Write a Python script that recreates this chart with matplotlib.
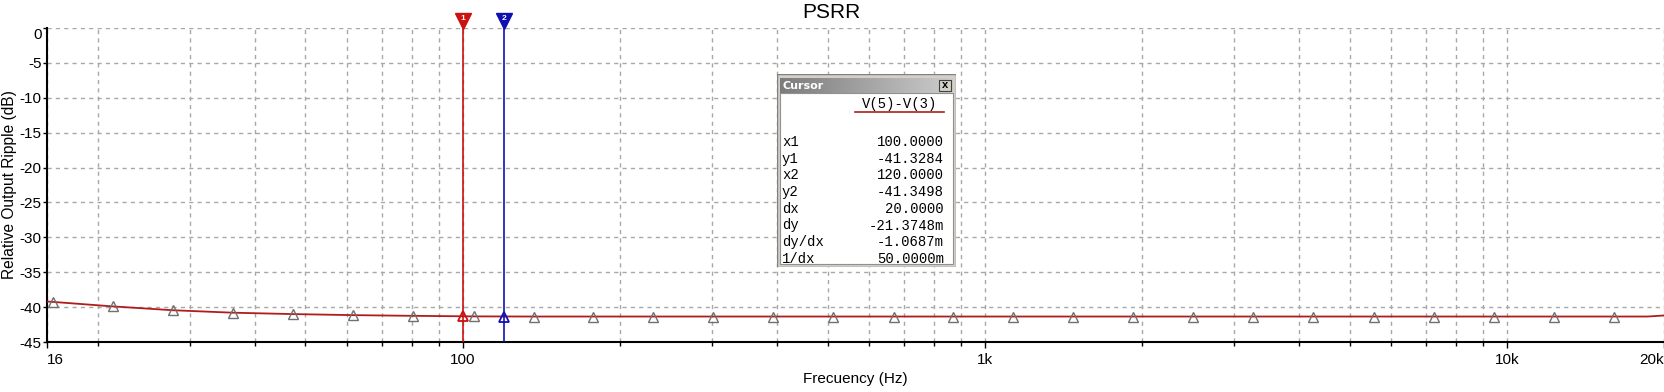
import numpy as np
import matplotlib
matplotlib.use('Agg')
from matplotlib import pyplot as plt
from matplotlib.ticker import FixedLocator, LogLocator, NullFormatter
from matplotlib.patches import Rectangle

plt.rcParams['font.family'] = ['Liberation Sans', 'DejaVu Sans']

# trace V(5)-V(3) (Hz, dB)
freq = [16, 16.4, 21.4, 27.9, 36.3, 47.4, 61.7, 80.4, 105, 137, 178, 232, 302,
        394, 513, 669, 871, 1135, 1479, 1927, 2511, 3272, 4263, 5555, 7238,
        9431, 12290, 16010, 18600, 20000]
db = [-39.2, -39.25, -39.9, -40.45, -40.8, -41.0, -41.15, -41.25, -41.33,
      -41.35, -41.35, -41.35, -41.35, -41.35, -41.35, -41.35, -41.35, -41.35,
      -41.35, -41.35, -41.35, -41.35, -41.35, -41.35, -41.35, -41.35, -41.35,
      -41.35, -41.35, -41.2]

xticks = [16, 100, 1000, 10000, 20000]
xticklabels = ['16', '100', '1k', '10k', '20k']
yticks = [0, -5, -10, -15, -20, -25, -30, -35, -40, -45]

cursor_x = [100, 120]
cursor_y = [-41.3284, -41.3498]
cursor_col = ['#cc1111', '#1010b0']

rows = ['x1', 'y1', 'x2', 'y2', 'dx', 'dy', 'dy/dx', '1/dx']
vals = ['100.0000', '-41.3284', '120.0000', '-41.3498', '20.0000',
        '-21.3748m', '-1.0687m', '50.0000m']

fig = plt.figure(figsize=(16.65, 3.92), dpi=100)
ax = fig.add_axes([47 / 1665, 1 - 342 / 392, 1617 / 1665, 314 / 392])

ax.plot(freq, db, color='#b01c1c', lw=1.3, zorder=3)
ax.plot(freq[1:-2], db[1:-2], ls='none', marker='^', ms=6.5, mfc='none',
        mec='#707070', mew=1.0, zorder=4)

tr = ax.get_xaxis_transform()
for cx, cy, c, n in zip(cursor_x, cursor_y, cursor_col, ['1', '2']):
    ax.axvline(cx, color=c, lw=1.2, zorder=5)
    ax.plot([cx], [cy], ls='none', marker='^', ms=6.5, mfc='none', mec=c,
            mew=1.3, zorder=6)
    ax.plot([cx], [1.022], marker='v', ms=11, color=c, transform=tr,
            clip_on=False, zorder=7)
    ax.text(cx, 1.03, n, transform=tr, color='white', fontsize=6,
            fontweight='bold', ha='center', va='center', clip_on=False,
            zorder=8)

ax.set_xscale('log')
ax.set_xlim(16, 20000)
ax.set_ylim(-45, 0)
ax.xaxis.set_major_locator(FixedLocator(xticks))
ax.set_xticklabels(xticklabels)
ax.xaxis.set_minor_locator(LogLocator(base=10, subs=np.arange(2, 10)))
ax.xaxis.set_minor_formatter(NullFormatter())
ax.set_yticks(yticks)
ax.set_yticklabels([str(v) for v in yticks])
ax.tick_params(axis='x', which='major', labelsize=11, length=4, width=1,
               pad=4)
ax.tick_params(axis='x', which='minor', length=3, width=1)
ax.tick_params(axis='y', labelsize=11, length=3, width=1, pad=1)
xl = ax.get_xticklabels()
xl[0].set_ha('left')
xl[-1].set_ha('right')
ax.get_yticklabels()[0].set_va('top')
ax.grid(True, which='both', color='#a8a8a8', ls=(0, (3, 3)), lw=1)
for s in ['top', 'right']:
    ax.spines[s].set_visible(False)
for s in ['left', 'bottom']:
    ax.spines[s].set_linewidth(1.5)

fig.text(831 / 1665, 1 - 13 / 392, 'PSRR', fontsize=15, ha='center',
         va='center')
ax.set_xlabel('Frecuency (Hz)', fontsize=11)
ax.xaxis.set_label_coords(0.5, -(379 - 342) / 314)
ax.xaxis.label.set_va('center')
ax.set_ylabel('Relative Output Ripple (dB)', fontsize=11.2)
ax.yaxis.set_label_coords(-(47 - 10) / 1617, 0.5)
ax.yaxis.label.set_va('center')

# cursor window
bx = fig.add_axes([777 / 1665, 1 - 267 / 392, 179 / 1665, 193 / 392])
bx.axis('off')
bx.add_patch(Rectangle((0, 0), 179, 193, fc='#d4d0c8', ec='#808080', lw=1))
bx.add_patch(Rectangle((3, 19), 173, 171, fc='white', ec='#909090', lw=0.8))
grad = np.linspace(0, 1, 100).reshape(1, -1)
bx.imshow(grad, cmap=matplotlib.colors.LinearSegmentedColormap.from_list(
    'tb', ['#7c7c7c', '#cccccc']), extent=(3, 176, 19, 4), aspect='auto',
    zorder=2)
bx.set_xlim(0, 179)
bx.set_ylim(193, 0)
bx.text(6, 12, 'Cursor', color='white', fontsize=8, fontweight='bold',
        family='DejaVu Sans', va='center', zorder=3)
bx.add_patch(Rectangle((162, 6), 12, 11, fc='#d4d0c8', ec='#404040', lw=0.8,
                       zorder=3))
bx.text(168, 11.5, 'x', fontsize=8, fontweight='bold', ha='center',
        va='center', zorder=4)
bx.text(123, 30, 'V(5)-V(3)', family='Liberation Mono', fontsize=10,
        ha='center', va='center')
bx.plot([78, 167], [38, 38], color='#b01c1c', lw=1.2)
for i, (r, v) in enumerate(zip(rows, vals)):
    y = 68 + i * 16.7
    bx.text(5, y, r, family='Liberation Mono', fontsize=10, va='center')
    bx.text(167, y, v, family='Liberation Mono', fontsize=10, va='center',
            ha='right')

fig.savefig('out.png', dpi=100)
